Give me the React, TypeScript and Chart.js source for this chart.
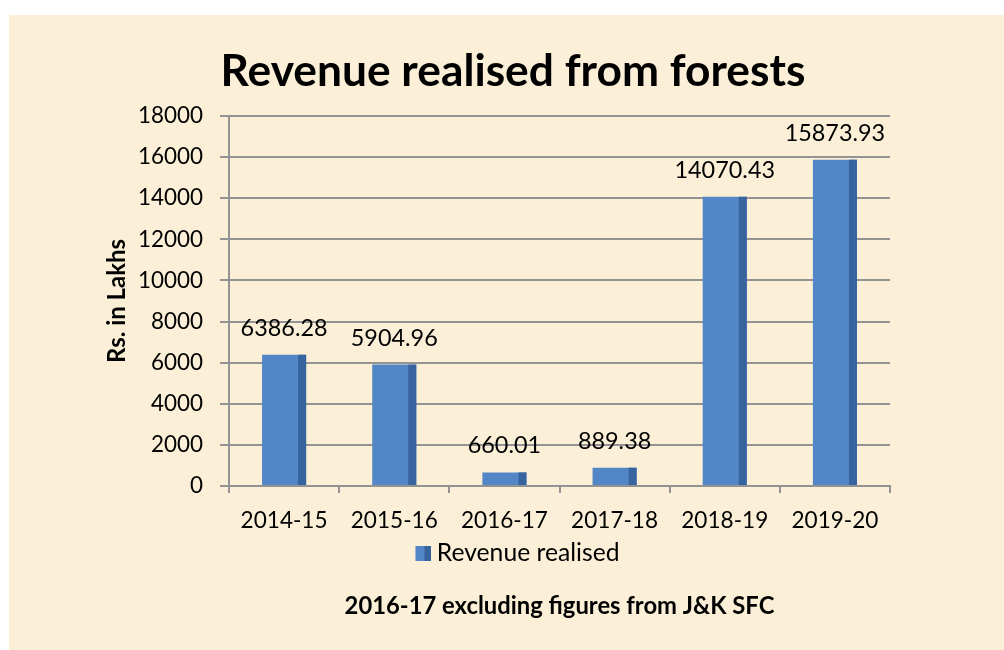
import React, { useEffect, useRef } from "react";
import { Chart, registerables } from "chart.js";

Chart.register(...registerables);

const categories = ["2014-15", "2015-16", "2016-17", "2017-18", "2018-19", "2019-20"];
const revenue = [6386.28, 5904.96, 660.01, 889.38, 14070.43, 15873.93];
const yTickValues = [0, 2000, 4000, 6000, 8000, 10000, 12000, 14000, 16000, 18000];
const seriesLabel = "Revenue realised";
const titleText = "Revenue realised from forests";
const yTitleText = "Rs. in Lakhs";
const footnoteText = "2016-17 excluding figures from J&K SFC";

const FONT = "Lato, 'Open Sans', sans-serif";
const FRONT = "#5386c7";
const SIDE = "#37639f";
const GRID = "#939393";
const BG = "#fbf0d7";

function fitSize(text: string, target: number, weight: string): number {
  const c = document.createElement("canvas").getContext("2d")!;
  c.font = `${weight} 100px ${FONT}`;
  const w = c.measureText(text).width;
  return (100 * target) / w;
}

export default function App() {
  const ref = useRef<HTMLCanvasElement>(null);

  useEffect(() => {
    const canvas = ref.current!;
    const T = fitSize(titleText, 585, "bold");
    const labelSize = fitSize("6386.28", 87, "normal");
    const tickSize = fitSize("18000", 65, "normal");
    const xSize = fitSize("2014-15", 87, "normal");
    const legSize = fitSize(seriesLabel, 183, "normal");
    const yTitleSize = fitSize(yTitleText, 124, "bold");
    const footSize = fitSize(footnoteText, 430, "bold");

    const L = 22;
    const chartTop = 116;
    const chartBottom = 486;
    const chartLeft = 229;
    const chartRight = 890;
    const W = 1004;
    const H = 650;

    const tLh = 1.2 * T;
    const tPt = 72 - tLh / 2;
    const tPb = chartTop - 72 - tLh / 2;

    const xTickLen = 7;
    const xPad = 521 - chartBottom - xTickLen - 0.6 * xSize;
    const xH = 50;
    const legTop = chartBottom + xH;
    const legP = 553 - legTop - legSize / 2;
    const legH = legSize + legP + 10;
    const legBottom = legTop + legH;
    const sPt = 606 - legBottom - 0.6 * footSize;
    const subBottom = legBottom + sPt + 1.2 * footSize;
    const B = H - subBottom;

    const yTitlePad = 117 - L - 0.6 * yTitleSize;

    // legend marker: transparent left half, visible 3D-style square on the right
    const legImg = document.createElement("canvas");
    legImg.width = 32;
    legImg.height = 15;
    const lc = legImg.getContext("2d")!;
    lc.fillStyle = FRONT;
    lc.fillRect(16, 0, 9, 15);
    lc.fillStyle = SIDE;
    lc.fillRect(25, 0, 7, 15);

    const bgPlugin = {
      id: "bg",
      beforeDraw(chart: any) {
        const ctx = chart.ctx;
        ctx.save();
        ctx.fillStyle = "#ffffff";
        ctx.fillRect(0, 0, W, H);
        ctx.fillStyle = BG;
        ctx.fillRect(9, 15, W - 9, H - 15);
        ctx.restore();
      },
    };

    const barPlugin = {
      id: "barDecor",
      afterDatasetsDraw(chart: any) {
        const ctx = chart.ctx;
        const meta = chart.getDatasetMeta(0);
        ctx.save();
        meta.data.forEach((bar: any, i: number) => {
          const p = bar.getProps(["x", "y", "base", "width"], true);
          ctx.fillStyle = SIDE;
          ctx.fillRect(p.x + p.width / 2 - 8, p.y, 8, p.base - p.y);
          ctx.fillStyle = "#000";
          ctx.font = `normal ${labelSize}px ${FONT}`;
          ctx.textAlign = "center";
          ctx.textBaseline = "middle";
          ctx.fillText(revenue[i].toFixed(2), p.x, p.y - 26.5);
        });
        ctx.restore();
      },
    };

    const chart = new Chart(canvas, {
      type: "bar",
      data: {
        labels: categories,
        datasets: [
          {
            label: seriesLabel,
            data: revenue,
            backgroundColor: FRONT,
            borderWidth: 0,
            barPercentage: 0.4,
            categoryPercentage: 1,
            yAxisID: "y",
          },
        ],
      },
      options: {
        responsive: false,
        animation: false,
        devicePixelRatio: 1,
        layout: { padding: { left: L, right: 0, top: 0, bottom: B } },
        scales: {
          x: {
            grid: {
              display: true,
              drawOnChartArea: false,
              drawTicks: true,
              tickLength: xTickLen,
              color: GRID,
              lineWidth: 2,
              offset: true,
            },
            border: { display: true, color: GRID, width: 2 },
            ticks: {
              color: "#000",
              font: { family: FONT, size: xSize },
              padding: xPad,
              maxRotation: 0,
              autoSkip: false,
            },
            afterFit: (s: any) => {
              s.height = xH;
            },
          },
          y: {
            min: 0,
            max: 18000,
            afterBuildTicks: (s: any) => {
              s.ticks = yTickValues.map((v) => ({ value: v }));
            },
            ticks: {
              color: "#000",
              font: { family: FONT, size: tickSize },
              padding: 17,
              callback: (v: any) => String(v),
            },
            grid: { color: GRID, lineWidth: 2, tickLength: 9 },
            border: { color: GRID, width: 2 },
            title: {
              display: true,
              text: yTitleText,
              color: "#000",
              font: { family: FONT, size: yTitleSize, weight: "bold", lineHeight: 1.2 },
              padding: { top: yTitlePad, bottom: 0 },
            },
            afterFit: (s: any) => {
              s.width = chartLeft - L;
            },
          },
          y2: {
            position: "right",
            display: true,
            grid: { display: false },
            border: { display: false },
            ticks: { display: false },
            afterFit: (s: any) => {
              s.width = W - chartRight;
            },
          },
        },
        plugins: {
          title: {
            display: true,
            text: titleText,
            color: "#000",
            font: { family: FONT, size: T, weight: "bold", lineHeight: 1.2 },
            padding: { top: tPt, bottom: tPb },
          },
          subtitle: {
            display: true,
            text: footnoteText,
            position: "bottom",
            fullSize: false,
            color: "#000",
            font: { family: FONT, size: footSize, weight: "bold", lineHeight: 1.2 },
            padding: { top: sPt, bottom: 0 },
          },
          legend: {
            display: true,
            position: "bottom",
            labels: {
              usePointStyle: true,
              pointStyle: legImg,
              pointStyleWidth: 18,
              boxWidth: 18,
              padding: legP,
              color: "#000",
              font: { family: FONT, size: legSize },
            },
          },
          tooltip: { enabled: false },
        },
      } as any,
      plugins: [bgPlugin, barPlugin],
    });

    return () => chart.destroy();
  }, []);

  return (
    <div style={{ position: "fixed", left: 0, top: 0, width: 1004, height: 650, background: "#fff" }}>
      <canvas ref={ref} width={1004} height={650} style={{ display: "block", width: 1004, height: 650 }} />
    </div>
  );
}
